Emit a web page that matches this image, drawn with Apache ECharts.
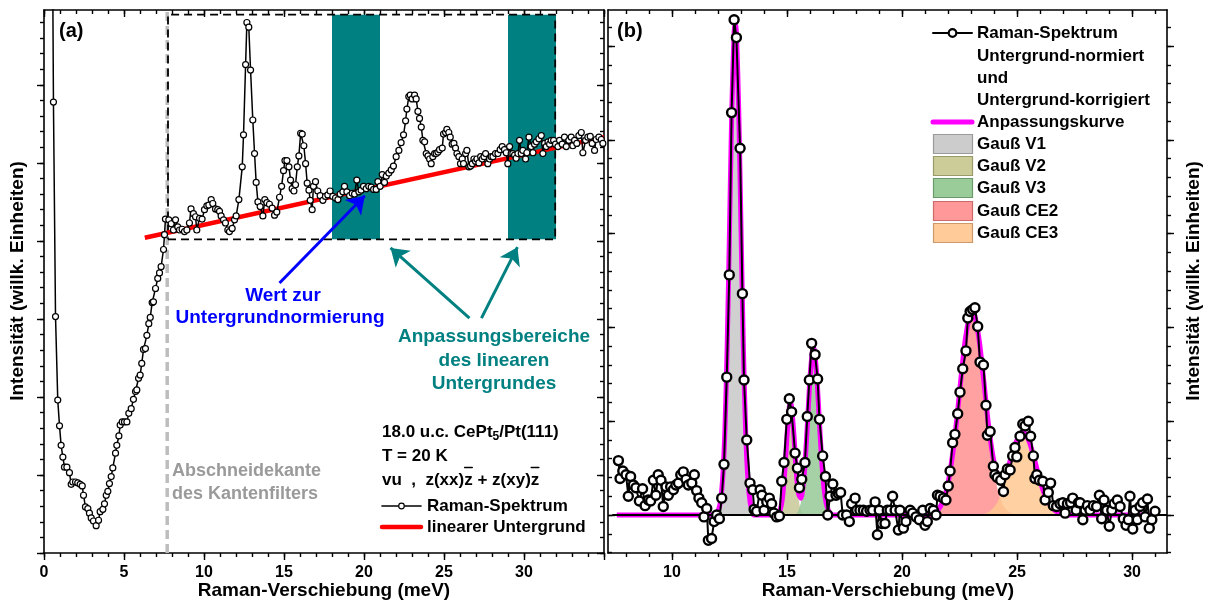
<!DOCTYPE html>
<html><head><meta charset="utf-8">
<script src="https://cdn.jsdelivr.net/npm/echarts@6/dist/echarts.min.js"></script>
<style>html,body{margin:0;padding:0;background:#fff}#c{width:1210px;height:610px}</style>
</head><body><div id="c"></div>
<script>
const FONT = '"Liberation Sans", Arial, sans-serif';

// ---------- Panel (a) data ----------
const specA = [[0.5,9.0],[0.59,5.78],[0.72,3.03],[0.86,1.96],[0.97,1.63],[1.07,1.38],[1.18,1.23],[1.28,1.10],[1.43,1.10],[1.59,1.03],[1.70,0.88],[1.80,0.91],[1.97,0.91],[2.11,0.90],[2.26,0.88],[2.39,0.86],[2.47,0.74],[2.59,0.59],[2.74,0.57],[2.84,0.51],[2.95,0.45],[3.09,0.41],[3.26,0.35],[3.41,0.42],[3.51,0.53],[3.68,0.56],[3.78,0.63],[3.89,0.74],[3.99,0.79],[4.09,0.89],[4.2,0.98],[4.3,1.09],[4.47,1.28],[4.55,1.38],[4.68,1.50],[4.76,1.64],[4.89,1.68],[5.03,1.68],[5.18,1.68],[5.3,1.79],[5.45,1.85],[5.59,1.97],[5.72,2.07],[5.8,2.09],[5.91,2.24],[6.01,2.28],[6.11,2.43],[6.22,2.61],[6.34,2.62],[6.43,2.79],[6.55,2.94],[6.64,3.02],[6.76,3.21],[6.84,3.22],[6.97,3.39],[7.11,3.52],[7.22,3.59],[7.32,3.67],[7.47,3.89],[7.53,4.08],[7.59,4.28],[7.8,4.27],[7.95,4.22],[8.09,4.14],[8.22,4.27],[8.36,4.18],[8.47,4.14],[8.63,4.15],[8.78,4.12],[8.93,4.14],[9.09,4.23],[9.19,4.41],[9.34,4.35],[9.47,4.31],[9.55,4.14],[9.72,4.29],[9.88,4.28],[10.03,4.40],[10.18,4.45],[10.3,4.46],[10.45,4.53],[10.55,4.48],[10.72,4.41],[10.86,4.40],[10.97,4.38],[11.07,4.32],[11.22,4.27],[11.34,4.23],[11.49,4.14],[11.59,4.12],[11.76,4.16],[11.91,4.27],[12.01,4.32],[12.18,4.53],[12.39,4.95],[12.47,5.36],[12.6,6.26],[12.68,6.80],[12.8,6.74],[12.91,6.19],[13.05,5.55],[13.16,5.12],[13.26,4.75],[13.37,4.50],[13.51,4.44],[13.68,4.32],[13.8,4.53],[13.93,4.49],[14.09,4.47],[14.26,4.42],[14.41,4.33],[14.55,4.37],[14.72,4.56],[14.85,4.70],[14.97,4.90],[15.06,5.03],[15.18,5.03],[15.31,4.95],[15.41,4.78],[15.51,4.67],[15.62,4.64],[15.72,4.72],[15.83,4.95],[15.93,5.09],[16.04,5.38],[16.14,5.37],[16.24,5.22],[16.35,4.99],[16.45,4.74],[16.56,4.65],[16.64,4.52],[16.76,4.40],[16.84,4.70],[16.97,4.76],[17.11,4.64],[17.26,4.58],[17.43,4.52],[17.59,4.57],[17.74,4.59],[17.88,4.64],[18.05,4.57],[18.22,4.55],[18.37,4.53],[18.51,4.60],[18.68,4.63],[18.78,4.70],[18.93,4.63],[19.1,4.58],[19.26,4.61],[19.41,4.60],[19.55,4.78],[19.68,4.63],[19.82,4.65],[19.97,4.70],[20.14,4.67],[20.3,4.70],[20.45,4.69],[20.6,4.66],[20.76,4.66],[20.87,4.76],[21.01,4.70],[21.14,4.85],[21.28,4.75],[21.39,4.83],[21.55,4.87],[21.7,4.91],[21.84,4.96],[22.01,5.08],[22.18,5.16],[22.32,5.26],[22.47,5.36],[22.6,5.54],[22.68,5.69],[22.8,5.85],[22.89,5.87],[23.01,5.82],[23.16,5.87],[23.26,5.82],[23.37,5.66],[23.47,5.57],[23.58,5.46],[23.68,5.29],[23.79,5.27],[23.89,5.12],[24.0,5.09],[24.1,5.05],[24.2,4.99],[24.3,5.08],[24.41,5.12],[24.51,5.12],[24.62,5.14],[24.72,5.17],[24.89,5.19],[24.97,5.37],[25.1,5.39],[25.18,5.43],[25.3,5.39],[25.39,5.33],[25.51,5.24],[25.62,5.25],[25.72,5.19],[25.81,5.12],[25.93,5.08],[26.03,4.99],[26.14,5.05],[26.22,4.99],[26.35,5.12],[26.43,5.16],[26.56,4.95],[26.66,4.96],[26.77,4.99],[26.87,5.05],[26.97,5.02],[27.06,5.05],[27.18,5.00],[27.29,5.08],[27.39,5.05],[27.5,5.08],[27.6,5.12],[27.74,4.99],[27.85,5.05],[27.95,5.08],[28.06,5.08],[28.22,5.12],[28.37,5.12],[28.51,5.17],[28.64,5.21],[28.78,5.17],[28.89,5.13],[28.99,4.99],[29.1,5.21],[29.2,5.12],[29.3,5.12],[29.41,5.10],[29.51,5.06],[29.62,5.12],[29.72,5.29],[29.83,5.12],[29.93,5.16],[30.1,5.05],[30.18,5.13],[30.31,5.33],[30.45,5.21],[30.56,5.13],[30.66,5.24],[30.77,5.27],[30.93,5.31],[31.08,5.35],[31.18,5.12],[31.29,5.25],[31.39,5.21],[31.5,5.27],[31.6,5.24],[31.7,5.29],[31.85,5.29],[31.97,5.24],[32.12,5.21],[32.22,5.29],[32.39,5.24],[32.53,5.33],[32.64,5.21],[32.8,5.29],[32.95,5.33],[33.05,5.22],[33.16,5.29],[33.3,5.25],[33.43,5.35],[33.58,5.39],[33.68,5.13],[33.85,5.29],[33.99,5.33],[34.14,5.34],[34.26,5.25],[34.41,5.16],[34.51,5.30],[34.68,5.33],[34.83,5.30],[34.93,5.25]];
const linearBg = [[6.3,4.04],[35,5.33]];
const fitRanges = [[18,21],[29,32]];
const normBox = {x0:7.75, x1:31.95, y0:4.02, y1:6.90};
const cutoffX = 7.7;
const arrowBlue = [[14.72,3.46],[20.05,4.58]];
const arrowTeal1 = [[26.59,3.01],[21.66,3.91]];
const arrowTeal2 = [[27.34,3.01],[29.59,3.92]];

// ---------- Panel (b) data ----------
const specB = [[7.67,0.58],[7.74,0.39],[7.86,0.47],[8.0,0.43],[8.1,0.20],[8.2,0.41],[8.32,0.32],[8.43,0.29],[8.58,0.15],[8.72,0.28],[8.83,0.10],[8.97,0.16],[9.07,0.15],[9.19,0.37],[9.3,0.21],[9.4,0.43],[9.52,0.37],[9.62,0.09],[9.74,0.30],[9.84,0.21],[9.94,0.30],[10.06,0.27],[10.17,0.32],[10.28,0.34],[10.38,0.43],[10.49,0.46],[10.61,0.38],[10.71,0.32],[10.86,0.34],[10.97,0.43],[11.07,0.26],[11.17,0.18],[11.29,0.13],[11.39,-0.02],[11.51,0.07],[11.58,-0.27],[11.72,-0.25],[11.83,-0.07],[11.94,0],[12.06,-0.04],[12.16,0.18],[12.26,0.54],[12.38,1.47],[12.49,2.56],[12.59,4.29],[12.70,5.28],[12.80,5.09],[12.96,3.91],[13.06,2.36],[13.13,1.44],[13.25,0.80],[13.39,0.34],[13.51,0.27],[13.57,0.06],[13.68,0.04],[13.83,0.27],[13.91,0.21],[14.0,0.05],[14.12,0.14],[14.23,0.18],[14.33,0.12],[14.43,0.02],[14.55,-0.02],[14.67,-0.01],[14.77,0.36],[14.87,0.56],[14.99,1.02],[15.1,1.24],[15.2,1.10],[15.35,0.66],[15.45,0.50],[15.54,0.29],[15.64,0.38],[15.78,0.56],[15.88,1.05],[15.97,1.44],[16.07,1.83],[16.22,1.71],[16.33,1.45],[16.41,1.02],[16.55,0.63],[16.67,0.41],[16.77,0],[16.87,0.20],[16.99,0.33],[17.13,0.21],[17.23,0.23],[17.33,0.24],[17.42,0],[17.59,0],[17.71,-0.07],[17.81,0.12],[17.96,0.18],[18.03,0.05],[18.17,0.05],[18.32,0.05],[18.46,0.04],[18.61,0.05],[18.72,0.05],[18.83,0.14],[18.93,-0.21],[19.01,0.05],[19.12,-0.09],[19.26,-0.09],[19.36,0.05],[19.48,0.05],[19.59,0.20],[19.7,0.05],[19.84,-0.16],[19.91,0.05],[20.06,-0.14],[20.17,-0.07],[20.35,0.05],[20.46,0.02],[20.61,-0.02],[20.75,-0.05],[20.9,0.05],[21.0,-0.11],[21.1,-0.07],[21.22,0.07],[21.36,0.05],[21.48,0],[21.54,0.21],[21.65,0.20],[21.8,0.18],[21.91,0.16],[22.01,0.31],[22.09,0.47],[22.2,0.77],[22.3,0.86],[22.42,1.08],[22.52,1.31],[22.64,1.56],[22.78,1.75],[22.86,2.10],[22.96,2.17],[23.07,2.19],[23.17,2.21],[23.29,2.01],[23.39,1.63],[23.54,1.60],[23.65,1.17],[23.71,0.85],[23.83,0.89],[23.97,0.52],[24.04,0.43],[24.14,0.40],[24.29,0.37],[24.41,0.25],[24.48,0.43],[24.58,0.49],[24.7,0.48],[24.81,0.63],[24.91,0.72],[24.99,0.62],[25.13,0.84],[25.25,0.97],[25.35,0.95],[25.49,1.00],[25.59,0.84],[25.71,0.63],[25.78,0.39],[25.86,0.43],[25.97,0.37],[26.12,0.36],[26.22,0.16],[26.36,0.24],[26.46,0.34],[26.58,0.10],[26.72,0.09],[26.87,0.12],[26.99,0.13],[27.09,0.02],[27.19,0.12],[27.33,0.13],[27.42,0.18],[27.57,0.05],[27.67,0.13],[27.74,0.13],[27.86,-0.05],[27.96,0.05],[28.06,0.10],[28.17,0.05],[28.32,0.10],[28.46,0.09],[28.58,0.21],[28.68,-0.04],[28.78,0.16],[28.9,0.05],[29.01,-0.12],[29.12,0.05],[29.22,0.12],[29.36,0.16],[29.48,0.09],[29.62,-0.04],[29.74,-0.11],[29.84,-0.05],[29.91,0.20],[30.03,-0.15],[30.13,0.05],[30.23,-0.05],[30.35,0.09],[30.46,0.13],[30.57,-0.02],[30.67,0.17],[30.75,-0.14],[30.86,-0.05],[31.0,0.04]];
const gaussV1 = [[11.95,0],[12.0,0.04],[12.1,0.13],[12.2,0.38],[12.3,0.90],[12.4,1.81],[12.5,3.05],[12.6,4.32],[12.7,5.14],[12.75,5.25],[12.8,5.14],[12.9,4.32],[13.0,3.05],[13.1,1.81],[13.2,0.90],[13.3,0.38],[13.4,0.13],[13.5,0.04],[13.55,0]];
const gaussV2 = [[14.55,0],[14.6,0.01],[14.7,0.05],[14.8,0.18],[14.9,0.46],[15.0,0.85],[15.1,1.15],[15.15,1.2],[15.2,1.15],[15.3,0.85],[15.4,0.46],[15.5,0.18],[15.6,0.05],[15.7,0.01],[15.75,0]];
const gaussV3 = [[15.35,0],[15.4,0.01],[15.5,0.05],[15.6,0.13],[15.7,0.31],[15.8,0.61],[15.9,1.03],[16.0,1.46],[16.1,1.74],[16.15,1.78],[16.2,1.74],[16.3,1.46],[16.4,1.03],[16.5,0.61],[16.6,0.31],[16.7,0.13],[16.8,0.05],[16.9,0.01],[16.95,0]];
const gaussCE2 = [[21.2,0],[21.35,0.02],[21.55,0.05],[21.75,0.13],[21.95,0.28],[22.15,0.56],[22.35,0.95],[22.55,1.43],[22.75,1.87],[22.95,2.14],[23.05,2.18],[23.15,2.14],[23.35,1.87],[23.55,1.43],[23.75,0.95],[23.95,0.56],[24.15,0.28],[24.35,0.13],[24.55,0.05],[24.75,0.02],[24.9,0]];
const gaussCE3 = [[23.4,0],[23.55,0.01],[23.75,0.03],[23.95,0.07],[24.15,0.14],[24.35,0.25],[24.55,0.41],[24.75,0.60],[24.95,0.77],[25.15,0.87],[25.25,0.88],[25.35,0.87],[25.55,0.77],[25.75,0.60],[25.95,0.41],[26.15,0.25],[26.35,0.14],[26.55,0.07],[26.75,0.03],[26.95,0.01],[27.1,0]];
const fitCurve = [[7.6,0],[11.95,0],[12.0,0.04],[12.1,0.13],[12.2,0.38],[12.3,0.90],[12.4,1.81],[12.5,3.05],[12.6,4.32],[12.7,5.14],[12.75,5.25],[12.8,5.14],[12.9,4.32],[13.0,3.05],[13.1,1.81],[13.2,0.90],[13.3,0.38],[13.4,0.13],[13.5,0.04],[13.55,0],[14.55,0],[14.6,0.01],[14.7,0.05],[14.8,0.18],[14.9,0.46],[15.0,0.85],[15.1,1.15],[15.15,1.2],[15.2,1.15],[15.3,0.85],[15.4,0.47],[15.5,0.23],[15.6,0.18],[15.7,0.32],[15.8,0.61],[15.9,1.03],[16.0,1.46],[16.1,1.74],[16.15,1.78],[16.2,1.74],[16.3,1.46],[16.4,1.03],[16.5,0.61],[16.6,0.31],[16.7,0.13],[16.8,0.05],[16.9,0.01],[16.95,0],[21.2,0],[21.35,0.02],[21.55,0.05],[21.75,0.13],[21.95,0.28],[22.15,0.56],[22.35,0.95],[22.55,1.43],[22.75,1.87],[22.95,2.14],[23.05,2.18],[23.15,2.14],[23.35,1.87],[23.55,1.44],[23.75,0.98],[23.95,0.63],[24.15,0.42],[24.35,0.38],[24.55,0.46],[24.75,0.62],[24.95,0.77],[25.15,0.87],[25.25,0.88],[25.35,0.87],[25.55,0.77],[25.75,0.60],[25.95,0.41],[26.15,0.25],[26.35,0.14],[26.55,0.07],[26.75,0.03],[26.95,0.01],[27.1,0],[31.05,0]];
const baselineB = [[7.4,0],[31.52,0]];

// ---------- tick labels ----------
const xLabelsA = [0,5,10,15,20,25,30];
const xLabelsB = [10,15,20,25,30];

function range(a,b,s){const r=[];for(let v=a;v<=b+1e-9;v+=s)r.push(Math.round(v*1000)/1000);return r;}
function ax(gi,pos,min,max,ticks,len,inside,line,labels){
  return {type:'value',gridIndex:gi,position:pos,min:min,max:max,offset:0,
    axisLine:{show:line,onZero:false,lineStyle:{color:'#000',width:1.6}},
    axisTick:{show:true,inside:inside,length:len,customValues:ticks,lineStyle:{color:'#000',width:1.4}},
    axisLabel:labels?{show:true,customValues:labels,margin:12,color:'#000',fontFamily:FONT,fontWeight:'bold',fontSize:16}:{show:false},
    splitLine:{show:false},minorTick:{show:false}};
}
const AX=[0,35], AY=[0,6.96], BX=[7.217,31.52], BY=[-0.405,5.384];
const xAxes=[
  ax(0,'bottom',AX[0],AX[1],range(0,35,5),7,false,true,xLabelsA),
  ax(0,'bottom',AX[0],AX[1],range(0,35,1),4,false,false,null),
  ax(0,'top',AX[0],AX[1],range(0,35,5),7,true,true,null),
  ax(0,'top',AX[0],AX[1],range(0,35,1),4,true,false,null),
  ax(1,'bottom',BX[0],BX[1],range(10,30,5),7,false,true,xLabelsB),
  ax(1,'bottom',BX[0],BX[1],range(8,31,1),4,false,false,null),
  ax(1,'top',BX[0],BX[1],range(10,30,5),7,true,true,null),
  ax(1,'top',BX[0],BX[1],range(8,31,1),4,true,false,null)
];
const yAxes=[
  ax(0,'left',AY[0],AY[1],range(0,6,1),7,false,true,null),
  ax(0,'left',AY[0],AY[1],range(0,6.8,0.2),4,false,false,null),
  ax(0,'right',AY[0],AY[1],range(0,6,1),7,true,true,null),
  ax(0,'right',AY[0],AY[1],range(0,6.8,0.2),4,true,false,null),
  ax(1,'left',BY[0],BY[1],range(0,5,1),7,true,true,null),
  ax(1,'left',BY[0],BY[1],range(-0.4,5.2,0.2),4,true,false,null),
  ax(1,'right',BY[0],BY[1],range(0,5,1),7,false,true,null),
  ax(1,'right',BY[0],BY[1],range(-0.4,5.2,0.2),4,false,false,null)
];

function areaSeries(data,color,z){
  return {type:'line',xAxisIndex:4,yAxisIndex:4,data:data,symbol:'none',smooth:0.3,z:z,silent:true,
    lineStyle:{width:0},areaStyle:{color:color,opacity:0.85,origin:0}};
}

const series=[
  {type:'line',xAxisIndex:0,yAxisIndex:0,data:[],z:1,silent:true,
   markArea:{silent:true,itemStyle:{color:'#008080',opacity:1},
     data:fitRanges.map(r=>[{xAxis:r[0],yAxis:normBox.y0},{xAxis:r[1],yAxis:normBox.y1}])}},
  {type:'line',xAxisIndex:0,yAxisIndex:0,data:[[cutoffX,AY[0]],[cutoffX,AY[1]]],symbol:'none',z:2,silent:true,
   lineStyle:{color:'#bdbdbd',width:3.5,type:[9,5]}},
  {type:'line',xAxisIndex:0,yAxisIndex:0,data:[[normBox.x0,normBox.y0],[normBox.x1,normBox.y0],[normBox.x1,normBox.y1],[normBox.x0,normBox.y1],[normBox.x0,normBox.y0]],
   symbol:'none',z:3,silent:true,lineStyle:{color:'#000',width:1.8,type:[8,5]}},
  {type:'line',xAxisIndex:0,yAxisIndex:0,data:linearBg,symbol:'none',z:4,silent:true,
   lineStyle:{color:'#ff0000',width:4.5}},
  {type:'line',xAxisIndex:0,yAxisIndex:0,data:specA,z:6,silent:true,symbol:'circle',symbolSize:6,
   itemStyle:{color:'#fff',borderColor:'#000',borderWidth:1.2},lineStyle:{color:'#000',width:1.5}},
  {type:'lines',coordinateSystem:'cartesian2d',xAxisIndex:0,yAxisIndex:0,z:8,silent:true,
   symbol:['none','arrow'],symbolSize:17,lineStyle:{width:3,opacity:1,curveness:0},
   data:[{coords:arrowBlue,lineStyle:{color:'#0000ff'}},{coords:arrowTeal1,lineStyle:{color:'#008080'}},{coords:arrowTeal2,lineStyle:{color:'#008080'}}]},
  areaSeries(gaussV1,'#c8c8c8',2),
  areaSeries(gaussV2,'#c8c896',2),
  areaSeries(gaussV3,'#96c896',2),
  areaSeries(gaussCE2,'#ff9090',2),
  areaSeries(gaussCE3,'#ffc890',2),
  {type:'line',xAxisIndex:4,yAxisIndex:4,data:fitCurve,symbol:'none',smooth:0.3,z:4,silent:true,
   lineStyle:{color:'#ff00ff',width:5}},
  {type:'line',xAxisIndex:4,yAxisIndex:4,data:baselineB,symbol:'none',z:5,silent:true,
   lineStyle:{color:'#000',width:2}},
  {type:'line',xAxisIndex:4,yAxisIndex:4,data:specB,z:6,silent:true,symbol:'circle',symbolSize:9,
   itemStyle:{color:'#fff',borderColor:'#000',borderWidth:2.4},lineStyle:{color:'#000',width:2}}
];

// ---------- graphics (texts, legends) ----------
const cv=document.createElement('canvas').getContext('2d');
function tw(t,size){cv.font='bold '+size+'px '+FONT;return cv.measureText(t).width;}
function txt(x,y,t,size,color,align,rot){
  const o={type:'text',x:x,y:y,z:100,silent:true,style:{text:t,fontFamily:FONT,fontWeight:'bold',fontSize:size,fill:color||'#000',align:align||'left',verticalAlign:'middle'}};
  if(rot){o.rotation=rot;}
  return o;
}
function ln(x1,y1,x2,y2,color,w){return {type:'line',z:100,silent:true,shape:{x1:x1,y1:y1,x2:x2,y2:y2},style:{stroke:color,lineWidth:w,lineCap:'round'}};}
function circ(cx,cy,r,bw){return {type:'circle',z:101,silent:true,shape:{cx:cx,cy:cy,r:r},style:{fill:'#fff',stroke:'#000',lineWidth:bw}};}
function box(x,y,w,h,fill,stroke){return {type:'rect',z:100,silent:true,shape:{x:x,y:y,width:w,height:h},style:{fill:fill,stroke:stroke,lineWidth:1.2}};}

const g=[];
g.push(txt(59,31,'(a)',20));
g.push(txt(617,31,'(b)',20));
g.push(txt(324,591,'Raman-Verschiebung (meV)',19,'#000','center'));
g.push(txt(888,591,'Raman-Verschiebung (meV)',19,'#000','center'));
g.push(txt(18,281,'Intensität (willk. Einheiten)',19,'#000','center',Math.PI/2));
g.push(txt(1194,281,'Intensität (willk. Einheiten)',19,'#000','center',Math.PI/2));
g.push(txt(283,296,'Wert zur',19,'#0000ff','center'));
g.push(txt(280,318,'Untergrundnormierung',19,'#0000ff','center'));
g.push(txt(494,337,'Anpassungsbereiche',19,'#008080','center'));
g.push(txt(494,361,'des linearen',19,'#008080','center'));
g.push(txt(494,384,'Untergrundes',19,'#008080','center'));
g.push(txt(172,471,'Abschneidekante',18,'#9a9a9a'));
g.push(txt(172,494,'des Kantenfilters',18,'#9a9a9a'));
const bx=382;
const s1='18.0 u.c. CePt', s2='/Pt(111)';
g.push(txt(bx,432,s1,17));
const w1=tw(s1,17);
g.push(txt(bx+w1,437,'5',12));
g.push(txt(bx+w1+tw('5',12),432,s2,17));
g.push(txt(bx,456,'T = 20 K',17));
const s3='vu  ,  z(xx)z + z(xy)z';
g.push(txt(bx,480,s3,17));
[s3.indexOf(')z')+1, s3.lastIndexOf('z')].forEach(i=>{
  const xa=bx+tw(s3.slice(0,i),17), wz=tw('z',17);
  g.push(ln(xa+0.5,467.5,xa+wz-0.5,467.5,'#000',1.6));
});
g.push(ln(382,506,421,506,'#000',1.6));
g.push(circ(401.5,506,2.8,1.2));
g.push(txt(427,506,'Raman-Spektrum',17));
g.push(ln(382,527,421,527,'#ff0000',4.5));
g.push(txt(427,527,'linearer Untergrund',17));
const lx=977;
g.push(ln(933,33,972,33,'#000',2));
g.push(circ(952.5,33,3.8,2.2));
g.push(txt(lx,33,'Raman-Spektrum',17));
g.push(txt(lx,56,'Untergrund-normiert',17));
g.push(txt(lx,78,'und',17));
g.push(txt(lx,100,'Untergrund-korrigiert',17));
g.push(ln(933,122,972,122,'#ff00ff',5));
g.push(txt(lx,122,'Anpassungskurve',17));
const legB=[['Gauß V1','#cccccc','#9a9a9a',144],['Gauß V2','#cccc99','#99996a',166],['Gauß V3','#99cc99','#6a9a6a',188],['Gauß CE2','#ff9999','#cc6a6a',211],['Gauß CE3','#ffcc99','#cc9a6a',233]];
legB.forEach(l=>{g.push(box(933.5,l[3]-9.5,39,19,l[1],l[2]));g.push(txt(lx,l[3],l[0],17));});

const chart=echarts.init(document.getElementById('c'),null,{renderer:'canvas'});
chart.setOption({
  animation:false,
  backgroundColor:'#fff',
  grid:[{left:44,top:10,width:560,height:543,containLabel:false},{left:608,top:10,width:559,height:543,containLabel:false}],
  xAxis:xAxes, yAxis:yAxes, series:series, graphic:g
});
</script></body></html>
